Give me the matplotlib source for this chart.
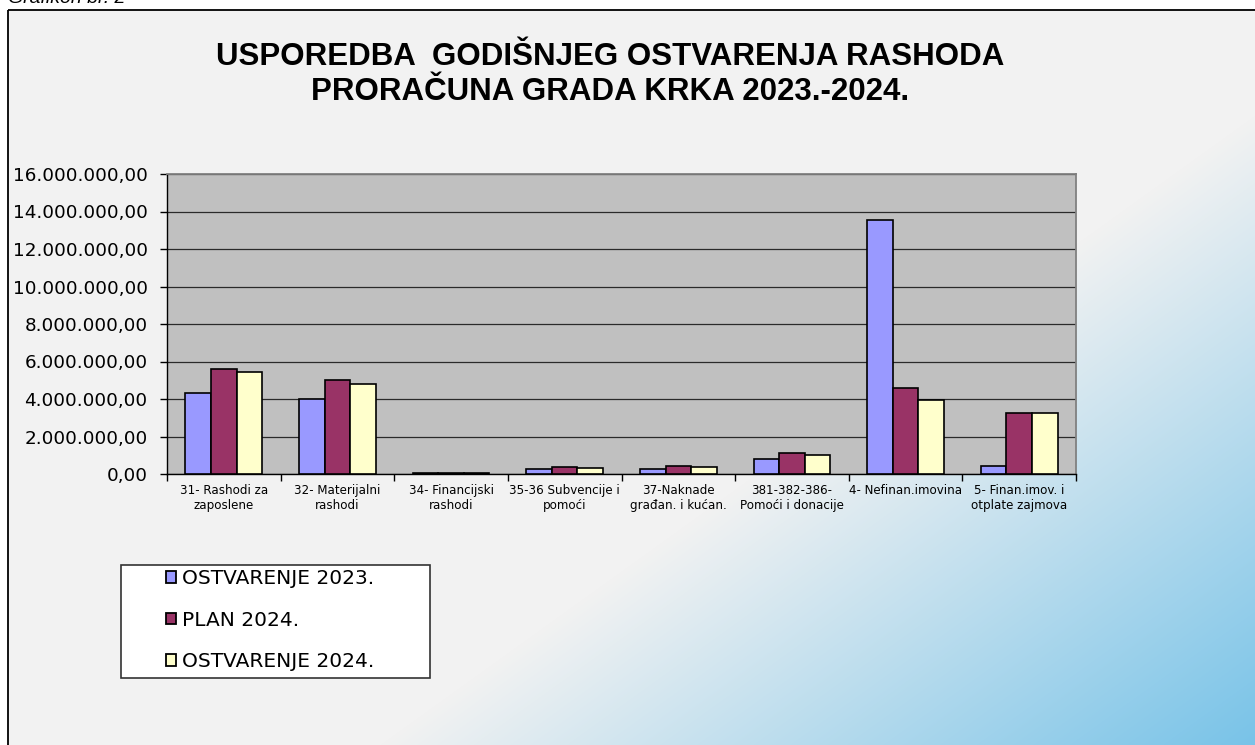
import numpy as np
import matplotlib
matplotlib.use("Agg")
import matplotlib.pyplot as plt
from matplotlib.patches import Patch, Rectangle

# ---------------- data ----------------
categories = [
    "31- Rashodi za\nzaposlene",
    "32- Materijalni\nrashodi",
    "34- Financijski\nrashodi",
    "35-36 Subvencije i\npomoći",
    "37-Naknade\ngrađan. i kućan.",
    "381-382-386-\nPomoći i donacije",
    "4- Nefinan.imovina",
    "5- Finan.imov. i\notplate zajmova",
]
ostvarenje_2023 = [4340000, 4000000, 40000, 270000, 270000, 800000, 13530000, 410000]
plan_2024 = [5620000, 5030000, 40000, 360000, 430000, 1120000, 4570000, 3250000]
ostvarenje_2024 = [5440000, 4800000, 40000, 300000, 370000, 990000, 3930000, 3250000]
series_labels = ["OSTVARENJE 2023.", "PLAN 2024.", "OSTVARENJE 2024."]
ytick_values = [0, 2000000, 4000000, 6000000, 8000000, 10000000, 12000000, 14000000, 16000000]
ytick_labels = ["0,00", "2.000.000,00", "4.000.000,00", "6.000.000,00", "8.000.000,00",
                "10.000.000,00", "12.000.000,00", "14.000.000,00", "16.000.000,00"]
title_lines = ["USPOREDBA  GODIŠNJEG OSTVARENJA RASHODA", "PRORAČUNA GRADA KRKA 2023.-2024."]

colors = ["#9999ff", "#993366", "#ffffcc"]

plt.rcParams['font.family'] = ['DejaVu Sans']

W, H = 1255, 745
fig = plt.figure(figsize=(W / 100, H / 100), dpi=100)
fig.patch.set_facecolor('white')

# ---------------- background with gradient ----------------
bg = fig.add_axes([0, 0, 1, 1], zorder=0)
yy, xx = np.mgrid[0:H, 0:W]
raw = 615.0 * xx + 855.0 * yy
t = np.clip((raw - 870000.0) / 538800.0, 0, 1)
c0 = np.array([242, 242, 242]) / 255.0
c1 = np.array([120, 195, 232]) / 255.0
img = c0[None, None, :] * (1 - t[..., None]) + c1[None, None, :] * t[..., None]
img[:10, :, :] = 1.0
img[:, :8, :] = 1.0
bg.imshow(img, extent=(0, W, H, 0), aspect='auto', interpolation='bilinear')
bg.set_xlim(0, W)
bg.set_ylim(H, 0)
bg.axis('off')
bg.plot([8, 8], [10, H], color='black', lw=1.3, solid_capstyle='butt')
bg.plot([8, W], [10, 10], color='black', lw=1.3, solid_capstyle='butt')
bg.add_patch(Rectangle((121, 565), 309, 113, facecolor='white', edgecolor='#333333', lw=1.2))

fig.text(8 / W, 1 - 3 / H, "Grafikon br. 2", ha='left', va='baseline', fontsize=14,
         style='italic', family='Liberation Sans', color='black')

# ---------------- title ----------------
fig.text(610 / W, 1 - 57 / H, title_lines[0], ha='center', va='center', fontsize=22.5,
         fontweight='bold', family='Liberation Sans')
fig.text(610 / W, 1 - 92 / H, title_lines[1], ha='center', va='center', fontsize=22.5,
         fontweight='bold', family='Liberation Sans')

# ---------------- main plot ----------------
ax = fig.add_axes([167 / W, 1 - 474 / H, 909 / W, 300 / H], zorder=1)
ax.set_facecolor('#c0c0c0')
x = np.arange(len(categories))
w = 0.225
for i, (vals, col, lab) in enumerate(zip([ostvarenje_2023, plan_2024, ostvarenje_2024], colors, series_labels)):
    ax.bar(x + (i - 1) * w, vals, w, color=col, edgecolor='black', lw=1.2, zorder=3, label=lab)

ax.set_xlim(-0.5, len(categories) - 0.5)
ax.set_ylim(0, 16000000)
ax.set_yticks(ytick_values, ytick_labels)
ax.yaxis.grid(True, color='#2a2a2a', lw=0.9)
ax.set_axisbelow(True)
ax.tick_params(axis='y', direction='out', length=5, width=1, pad=9, labelsize=13.2, colors='black')
ax.set_xticks(x, categories, fontsize=8.6)
ax.tick_params(axis='x', which='major', length=0, pad=7)
ax.set_xticks(np.arange(-0.5, len(categories), 1), minor=True)
ax.tick_params(axis='x', which='minor', length=5, width=1, direction='out')
for lbl in ax.get_xticklabels():
    lbl.set_linespacing(1.2)
for s in ['left', 'bottom']:
    ax.spines[s].set_color('black')
    ax.spines[s].set_linewidth(1.0)
for s in ['top', 'right']:
    ax.spines[s].set_color('#808080')
    ax.spines[s].set_linewidth(1.3)

# ---------------- legend ----------------
handles = [Patch(facecolor=c, edgecolor='black', lw=1.3) for c in colors]
leg = fig.legend(handles, series_labels, loc='upper left',
                 bbox_to_anchor=(166 / W, 1 - 569 / H), bbox_transform=fig.transFigure,
                 frameon=False, fontsize=14.5, handlelength=0.5, handleheight=0.5,
                 handletextpad=0.3, labelspacing=1.12, borderpad=0, borderaxespad=0)
leg.set_zorder(5)

fig.savefig("out.png", dpi=100)
